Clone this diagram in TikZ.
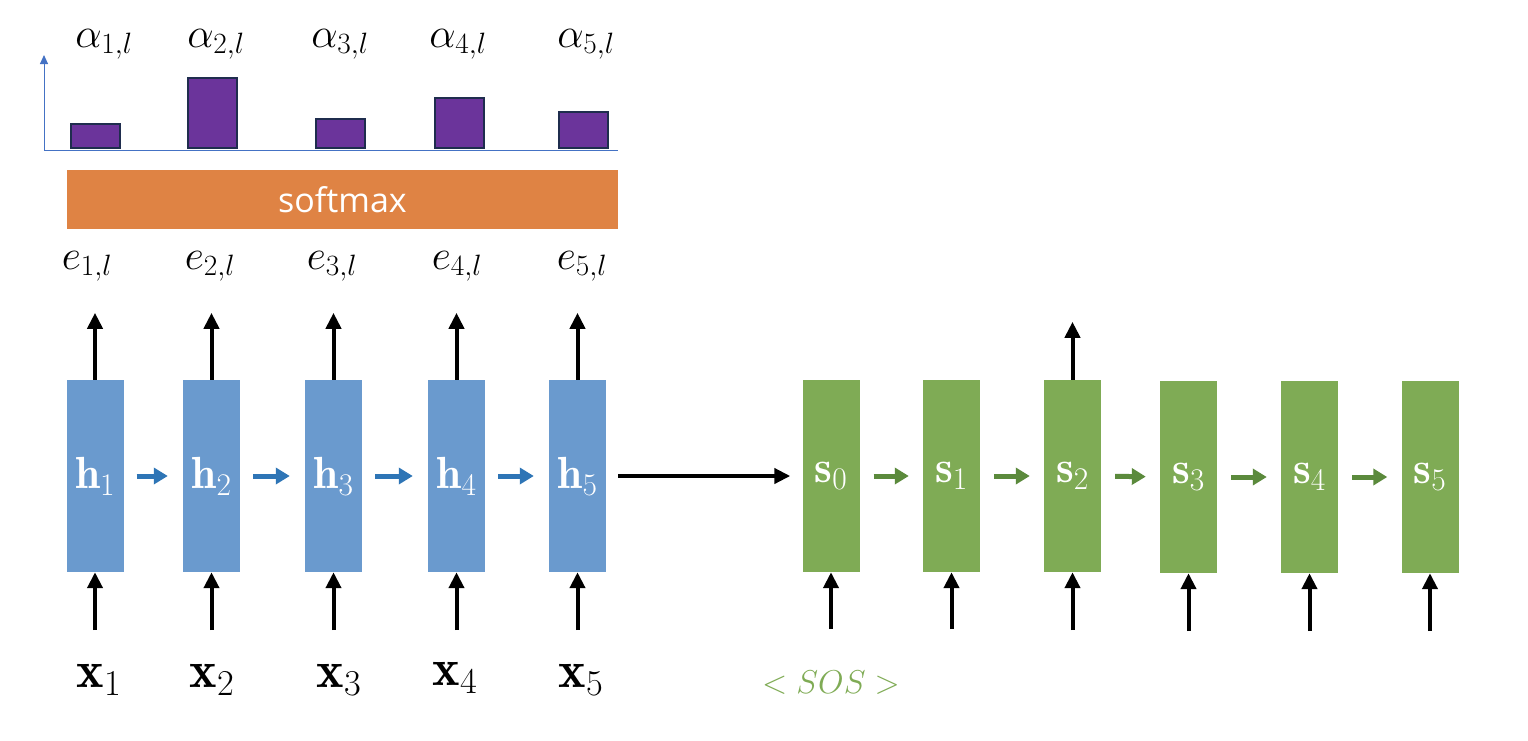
\RequirePackage{fix-cm}
\documentclass[tikz,border=0pt]{standalone}
\usepackage{amsmath}
\usepackage{fontspec}
\setsansfont{Open Sans}
\usepackage{tikz}
\usetikzlibrary{arrows.meta,positioning}

\definecolor{encblue}{HTML}{6A9ACE}
\definecolor{arrblue}{HTML}{2E75B6}
\definecolor{decgreen}{HTML}{7FAB55}
\definecolor{arrgreen}{HTML}{5B8A3C}
\definecolor{softorange}{HTML}{DF8344}
\definecolor{barpurple}{HTML}{6B349B}
\definecolor{barline}{HTML}{1F2D4E}
\definecolor{axisblue}{HTML}{4472C4}

\begin{document}
\begin{tikzpicture}[
    x=1pt, y=-1pt,
    enc/.style={rectangle, fill=encblue, minimum width=57pt, minimum height=192pt,
                inner sep=0pt, text=white, font=\fontsize{45}{48}\selectfont},
    dec/.style={enc, fill=decgreen},
    lbl/.style={font=\fontsize{42}{46}\selectfont},
    inp/.style={font=\fontsize{52}{56}\selectfont},
    bar/.style={rectangle, draw=barline, line width=2pt, fill=barpurple,
                minimum width=49pt, inner sep=0pt, anchor=south},
    arr/.style={-{Triangle[length=16pt,width=15pt]}, line width=4pt, draw=black},
    harr/.style={-{Triangle[length=14pt,width=16pt]}, line width=5pt, draw=arrblue,
                 shorten <=13pt, shorten >=15pt},
    garr/.style={-{Triangle[length=14pt,width=16pt]}, line width=5pt, draw=arrgreen,
                 shorten <=14pt, shorten >=14pt},
    axis/.style={draw=axisblue, line width=1pt},
  ]
  \useasboundingbox (0,0) rectangle (1528,740);

  % encoder
  \node[enc] (h1) at (95,476) {$\mathbf{h}_1$};
  \node[enc] (h2) at (211.5,476) {$\mathbf{h}_2$};
  \node[enc] (h3) at (333.5,476) {$\mathbf{h}_3$};
  \node[enc] (h4) at (456.5,476) {$\mathbf{h}_4$};
  \node[enc] (h5) at (577.5,476) {$\mathbf{h}_5$};

  % decoder
  \node[dec] (s0) at (831,476) {$\mathbf{s}_0$};
  \node[dec] (s1) at (951.5,476) {$\mathbf{s}_1$};
  \node[dec] (s2) at (1072.5,476) {$\mathbf{s}_2$};
  \node[dec] (s3) at (1188.5,477) {$\mathbf{s}_3$};
  \node[dec] (s4) at (1309.5,477) {$\mathbf{s}_4$};
  \node[dec] (s5) at (1430,477) {$\mathbf{s}_5$};

  % inputs
  \node[inp] (x1) at (99,680) {$\mathbf{x}_1$};
  \node[inp] (x2) at (212,680) {$\mathbf{x}_2$};
  \node[inp] (x3) at (339,680) {$\mathbf{x}_3$};
  \node[inp] (x4) at (455,678) {$\mathbf{x}_4$};
  \node[inp] (x5) at (581,680) {$\mathbf{x}_5$};
  \node[font=\fontsize{33}{36}\selectfont, text=decgreen] (sos) at (831,683) {$<SOS>$};

  % scores
  \node[lbl] (e1) at (87,266) {$e_{1,l}$};
  \node[lbl] (e2) at (210,266) {$e_{2,l}$};
  \node[lbl] (e3) at (332,266) {$e_{3,l}$};
  \node[lbl] (e4) at (457,266) {$e_{4,l}$};
  \node[lbl] (e5) at (582,266) {$e_{5,l}$};

  \node[rectangle, fill=softorange, minimum width=551pt, minimum height=59pt,
        text=white, font=\sffamily\fontsize{34}{38}\selectfont] (soft) at (342.5,199.5) {softmax};

  % attention weights
  \coordinate (origin) at (44,150);
  \coordinate (ytop) at (44,55);
  \coordinate (xend) at (618,150);
  \draw[axis] (origin) -- (xend);
  \draw[axis, -{Triangle[length=9pt,width=8pt]}] (origin) -- (ytop);
  \node[bar, minimum height=24pt] (b1) at (95.5,149) {};
  \node[bar, minimum height=70pt] (b2) at (212.5,149) {};
  \node[bar, minimum height=29pt] (b3) at (340,149) {};
  \node[bar, minimum height=50pt] (b4) at (459.5,149) {};
  \node[bar, minimum height=36pt] (b5) at (583.5,149) {};
  \node[lbl] (a1) at (104,44) {$\alpha_{1,l}$};
  \node[lbl] (a2) at (216,44) {$\alpha_{2,l}$};
  \node[lbl] (a3) at (340,44) {$\alpha_{3,l}$};
  \node[lbl] (a4) at (458,44) {$\alpha_{4,l}$};
  \node[lbl] (a5) at (586,44) {$\alpha_{5,l}$};

  % input arrows
  \coordinate[below=58pt of h1] (in1);
  \coordinate[below=58pt of h2] (in2);
  \coordinate[below=58pt of h3] (in3);
  \coordinate[below=58pt of h4] (in4);
  \coordinate[below=58pt of h5] (in5);
  \coordinate[below=57pt of s0] (in6);
  \coordinate[below=57pt of s1] (in7);
  \coordinate[below=58pt of s2] (in8);
  \coordinate[below=58pt of s3] (in9);
  \coordinate[below=58pt of s4] (in10);
  \coordinate[below=58pt of s5] (in11);
  \draw[arr] (in1) -- (h1);
  \draw[arr] (in2) -- (h2);
  \draw[arr] (in3) -- (h3);
  \draw[arr] (in4) -- (h4);
  \draw[arr] (in5) -- (h5);
  \draw[arr] (in6) -- (s0);
  \draw[arr] (in7) -- (s1);
  \draw[arr] (in8) -- (s2);
  \draw[arr] (in9) -- (s3);
  \draw[arr] (in10) -- (s4);
  \draw[arr] (in11) -- (s5);

  % output arrows
  \coordinate[above=67pt of h1] (out1);
  \coordinate[above=67pt of h2] (out2);
  \coordinate[above=67pt of h3] (out3);
  \coordinate[above=67pt of h4] (out4);
  \coordinate[above=67pt of h5] (out5);
  \coordinate[above=58pt of s2] (out6);
  \draw[arr] (h1) -- (out1);
  \draw[arr] (h2) -- (out2);
  \draw[arr] (h3) -- (out3);
  \draw[arr] (h4) -- (out4);
  \draw[arr] (h5) -- (out5);
  \draw[arr] (s2) -- (out6);

  % recurrence
  \draw[harr] (h1) -- (h2);
  \draw[harr] (h2) -- (h3);
  \draw[harr] (h3) -- (h4);
  \draw[harr] (h4) -- (h5);
  \draw[arr, shorten <=12pt, shorten >=12pt] (h5) -- (s0);
  \draw[garr] (s0) -- (s1);
  \draw[garr] (s1) -- (s2);
  \draw[garr] (s2) -- (s3);
  \draw[garr] (s3) -- (s4);
  \draw[garr] (s4) -- (s5);
\end{tikzpicture}
\end{document}
